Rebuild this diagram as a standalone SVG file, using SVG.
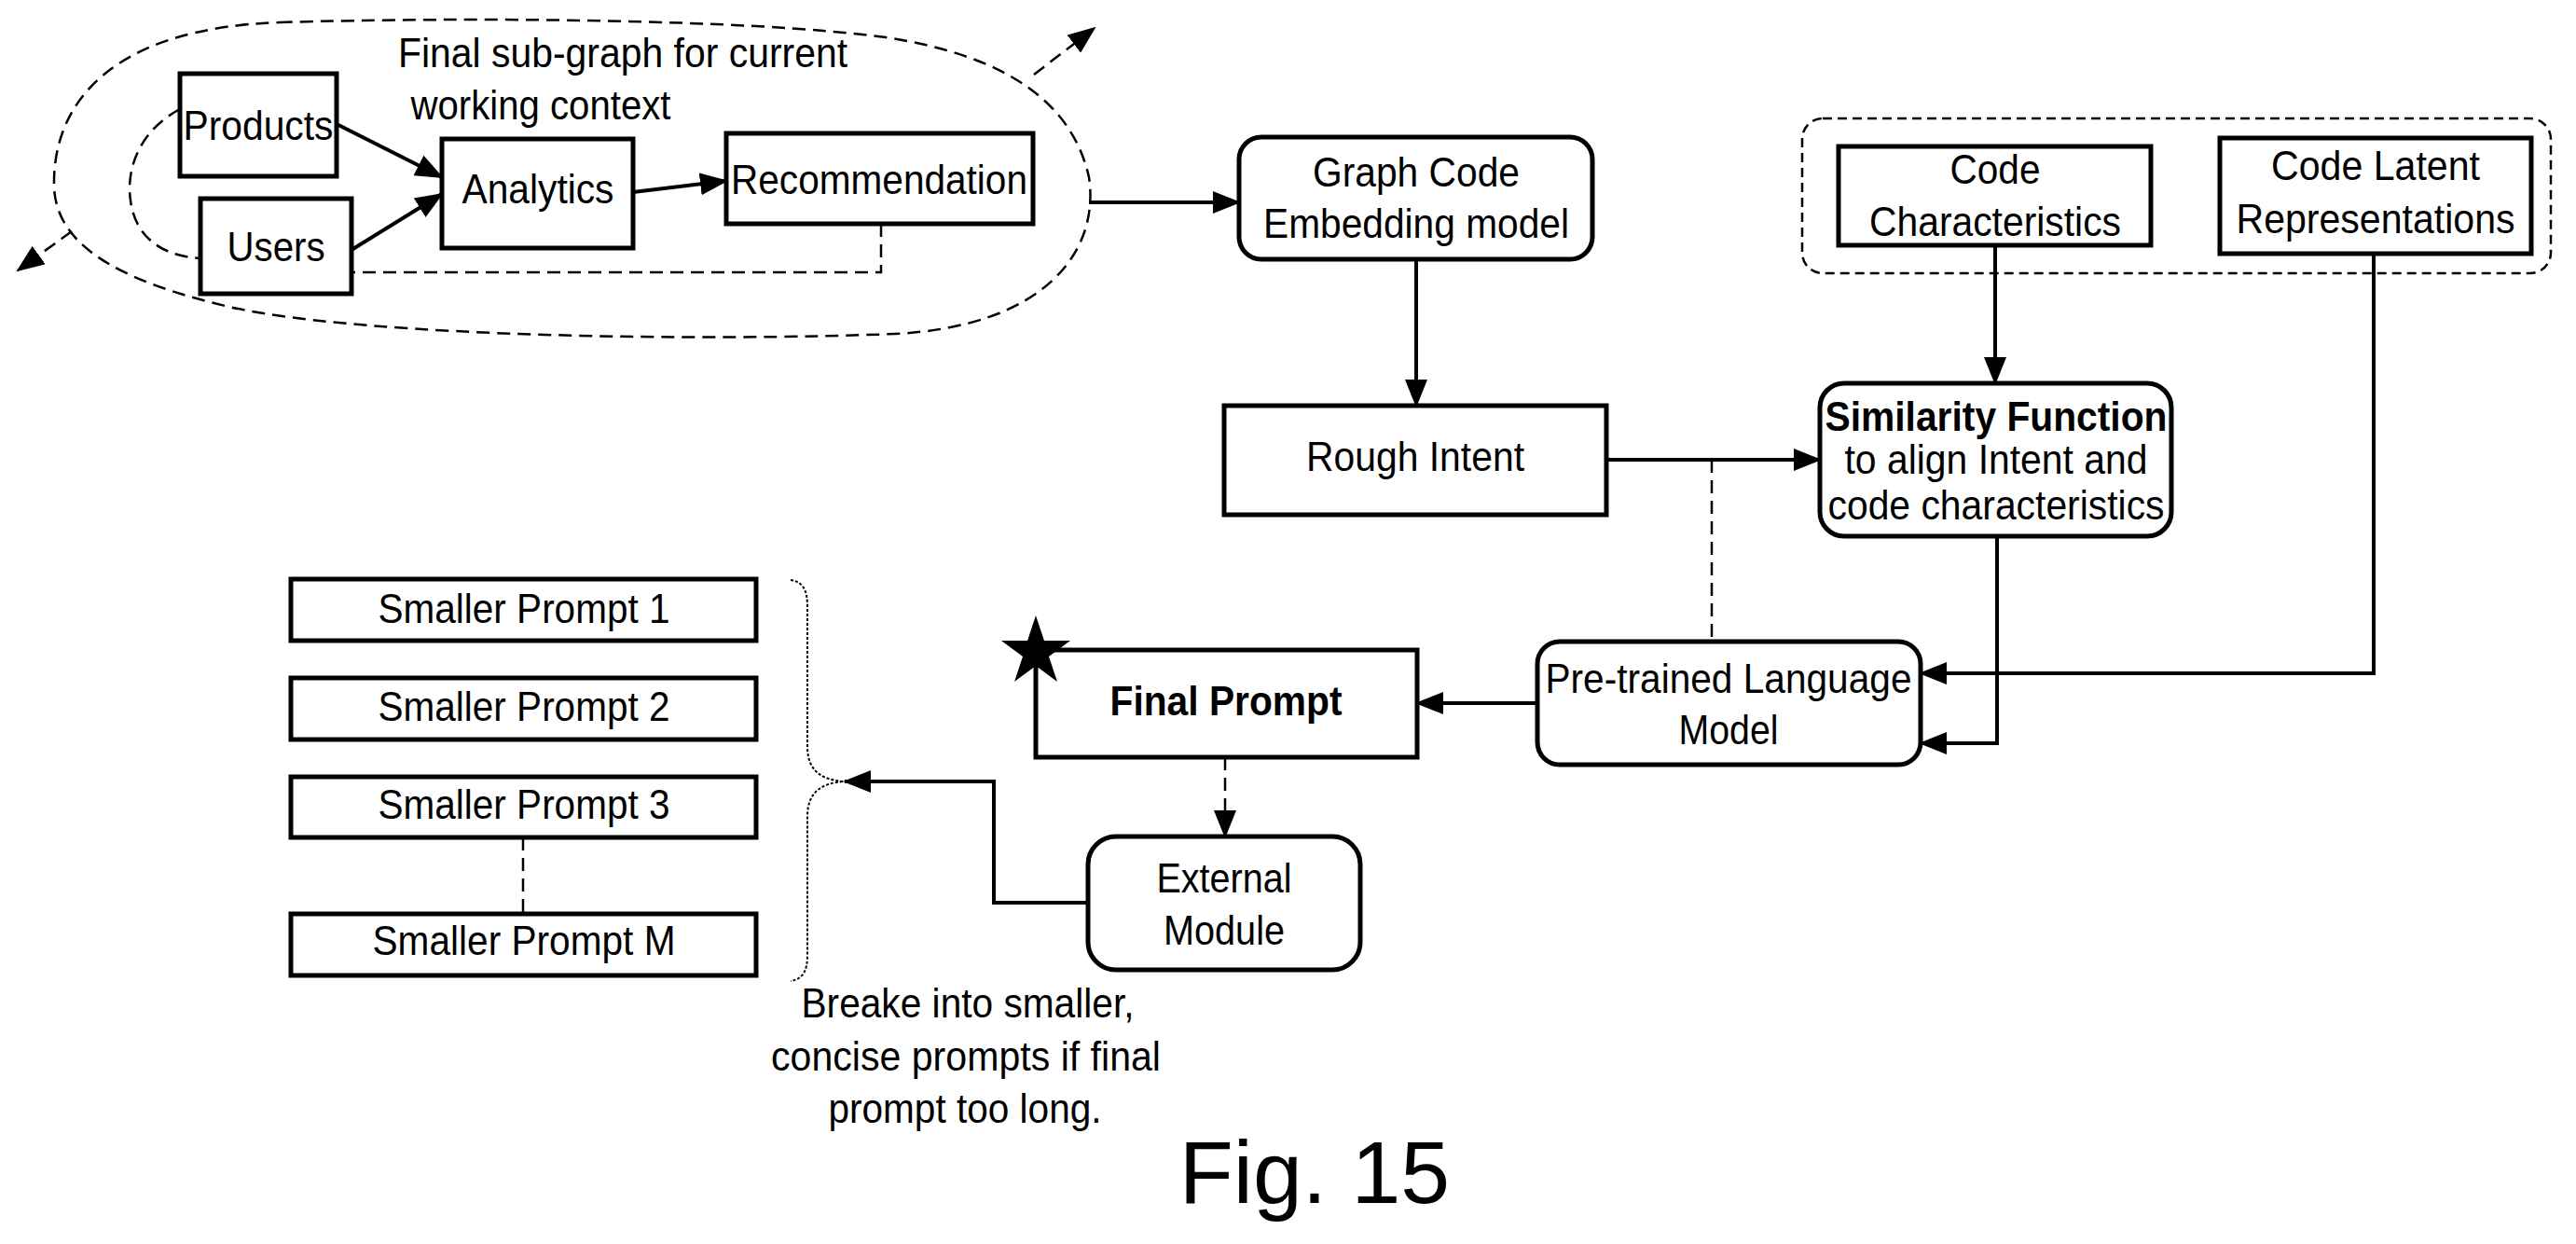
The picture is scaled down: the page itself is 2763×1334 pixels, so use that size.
<svg xmlns="http://www.w3.org/2000/svg" width="2763" height="1334" viewBox="0 0 2763 1334">
<style>
text{font-family:"Liberation Sans",Arial,sans-serif;font-size:44px;fill:#000;text-anchor:middle}
.b{stroke:#000;stroke-width:5;fill:#fff}
.c{stroke:#000;stroke-width:4;fill:none}
.d{stroke:#000;stroke-width:2.5;fill:none;stroke-dasharray:14 8}
.bold{font-weight:bold}
</style>
<defs>
<marker id="a" markerUnits="userSpaceOnUse" markerWidth="30" markerHeight="24" refX="28" refY="12" orient="auto"><path d="M0,0 L30,12 L0,24 Z" fill="#000"/></marker>
</defs>
<g id="context">
<path class="d" d="M300,24 C500,18 800,20 950,40 C1080,60 1150,110 1168,190 C1180,270 1120,350 960,358 C760,366 400,362 250,330 C120,300 60,260 58,200 C56,110 120,30 300,24 Z"/>
<text x="668" y="72" textLength="482" lengthAdjust="spacingAndGlyphs">Final sub-graph for current</text>
<text x="580" y="128" textLength="279" lengthAdjust="spacingAndGlyphs">working context</text>
</g>
<g id="products"><rect class="b" x="193" y="79" width="168" height="110"/><text x="277" y="150" textLength="161" lengthAdjust="spacingAndGlyphs">Products</text></g>
<g id="users"><rect class="b" x="215" y="213" width="162" height="102"/><text x="296" y="280" textLength="105" lengthAdjust="spacingAndGlyphs">Users</text></g>
<g id="analytics"><rect class="b" x="474" y="149" width="205" height="117"/><text x="577" y="218" textLength="163" lengthAdjust="spacingAndGlyphs">Analytics</text></g>
<g id="recommendation"><rect class="b" x="779" y="143" width="329" height="97"/><text x="943" y="208" textLength="318" lengthAdjust="spacingAndGlyphs">Recommendation</text></g>
<g id="graphcode"><rect class="b" x="1329" y="147" width="379" height="131" rx="24"/><text x="1519" y="200" textLength="222" lengthAdjust="spacingAndGlyphs">Graph Code</text><text x="1519" y="255" textLength="328" lengthAdjust="spacingAndGlyphs">Embedding model</text></g>
<g id="codegroup"><rect x="1933" y="127" width="803" height="166" rx="22" fill="none" stroke="#000" stroke-width="2.5" stroke-dasharray="10 6"/></g>
<g id="codechar"><rect class="b" x="1972" y="157" width="335" height="106"/><text x="2140" y="197" textLength="97" lengthAdjust="spacingAndGlyphs">Code</text><text x="2140" y="253" textLength="270" lengthAdjust="spacingAndGlyphs">Characteristics</text></g>
<g id="codelatent"><rect class="b" x="2381" y="148" width="334" height="124"/><text x="2548" y="193" textLength="224" lengthAdjust="spacingAndGlyphs">Code Latent</text><text x="2548" y="250" textLength="299" lengthAdjust="spacingAndGlyphs">Representations</text></g>
<g id="rough"><rect class="b" x="1313" y="435" width="410" height="117"/><text x="1518" y="505" textLength="234" lengthAdjust="spacingAndGlyphs">Rough Intent</text></g>
<g id="similarity"><rect class="b" x="1952" y="411" width="377" height="164" rx="26"/><text class="bold" x="2141" y="462" textLength="367" lengthAdjust="spacingAndGlyphs">Similarity Function</text><text x="2141" y="508" textLength="325" lengthAdjust="spacingAndGlyphs">to align Intent and</text><text x="2141" y="557" textLength="361" lengthAdjust="spacingAndGlyphs">code characteristics</text></g>
<g id="pretrained"><rect class="b" x="1649" y="688" width="411" height="132" rx="24"/><text x="1854" y="743" textLength="393" lengthAdjust="spacingAndGlyphs">Pre-trained Language</text><text x="1854" y="798" textLength="107" lengthAdjust="spacingAndGlyphs">Model</text></g>
<g id="finalprompt"><rect class="b" x="1111" y="697" width="409" height="115"/><text class="bold" x="1315" y="767" textLength="249" lengthAdjust="spacingAndGlyphs">Final Prompt</text>
<path d="M1111,660 L1120,687 L1148,687 L1125,704 L1134,731 L1111,714 L1088,731 L1097,704 L1074,687 L1102,687 Z" fill="#000"/></g>
<g id="external"><rect class="b" x="1167" y="897" width="292" height="143" rx="30"/><text x="1313" y="957" textLength="145" lengthAdjust="spacingAndGlyphs">External</text><text x="1313" y="1013" textLength="130" lengthAdjust="spacingAndGlyphs">Module</text></g>
<g id="smaller1"><rect class="b" x="312" y="621" width="499" height="66"/><text x="562" y="668" textLength="313" lengthAdjust="spacingAndGlyphs">Smaller Prompt 1</text></g>
<g id="smaller2"><rect class="b" x="312" y="727" width="499" height="66"/><text x="562" y="773" textLength="313" lengthAdjust="spacingAndGlyphs">Smaller Prompt 2</text></g>
<g id="smaller3"><rect class="b" x="312" y="833" width="499" height="65"/><text x="562" y="878" textLength="313" lengthAdjust="spacingAndGlyphs">Smaller Prompt 3</text></g>
<g id="smallerM"><rect class="b" x="312" y="980" width="499" height="66"/><text x="562" y="1024" textLength="325" lengthAdjust="spacingAndGlyphs">Smaller Prompt M</text></g>
<g id="brace"><path d="M848,622 C862,624 866,634 866,650 L866,800 C866,826 880,836 905,838 C880,840 866,850 866,876 L866,1024 C866,1040 862,1050 848,1052" fill="none" stroke="#000" stroke-width="2" stroke-dasharray="3 2"/>
<text x="1038" y="1091" textLength="357" lengthAdjust="spacingAndGlyphs">Breake into smaller,</text>
<text x="1036" y="1148" textLength="418" lengthAdjust="spacingAndGlyphs">concise prompts if final</text>
<text x="1035" y="1204" textLength="293" lengthAdjust="spacingAndGlyphs">prompt too long.</text></g>
<g id="connectors">
<path class="c" d="M361,133 L474,190" marker-end="url(#a)"/>
<path class="c" d="M377,268 L474,208" marker-end="url(#a)"/>
<path class="c" d="M679,206 L779,194" marker-end="url(#a)"/>
<path class="d" d="M193,117 C150,140 135,180 140,215 C145,255 175,275 215,277"/>
<path class="d" d="M945,240 L945,292 L377,292"/>
<path class="d" d="M1109,80 L1174,30" marker-end="url(#a)"/>
<path class="d" d="M77,248 L19,290" marker-end="url(#a)"/>
<path class="c" d="M1168,217 L1329,217" marker-end="url(#a)"/>
<path class="c" d="M1519,278 L1519,435" marker-end="url(#a)"/>
<path class="c" d="M2140,263 L2140,411" marker-end="url(#a)"/>
<path class="c" d="M1723,493 L1952,493" marker-end="url(#a)"/>
<path class="d" d="M1836,493 L1836,688"/>
<path class="c" d="M2546,272 L2546,722 L2060,722" marker-end="url(#a)"/>
<path class="c" d="M2142,575 L2142,797 L2060,797" marker-end="url(#a)"/>
<path class="c" d="M1649,754 L1520,754" marker-end="url(#a)"/>
<path class="d" d="M1314,812 L1314,897" marker-end="url(#a)"/>
<path class="c" d="M1167,968 L1066,968 L1066,838 L906,838" marker-end="url(#a)"/>
<path class="d" d="M561,898 L561,980"/>
</g>
<text x="1410" y="1290" style="font-size:95px">Fig. 15</text>
</svg>
